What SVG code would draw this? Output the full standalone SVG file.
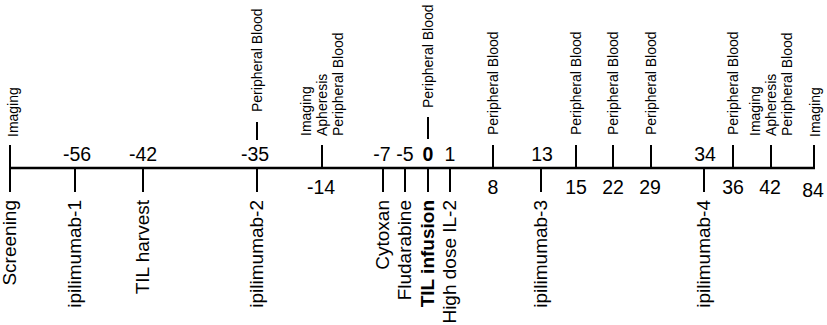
<svg xmlns="http://www.w3.org/2000/svg" width="827" height="325" viewBox="0 0 827 325">
<style>
.ax{stroke:#000;stroke-width:2.5;fill:none}
.tk{stroke:#000;stroke-width:2;fill:none}
text{font-family:"Liberation Sans",Arial,sans-serif;fill:#000}
.num{font-size:19.5px;text-anchor:middle}
.lab{font-size:19px;text-anchor:end}
.top{font-size:14px;text-anchor:start}
.b{font-weight:bold}
</style>
<rect width="827" height="325" fill="#fff"/>
<g id="connectors">
<line class="ax" x1="9" y1="168" x2="815" y2="168"/>
</g>
<g id="screening">
<line class="tk" x1="10" y1="145" x2="10" y2="192"/>
<text class="top" transform="translate(18,137) rotate(-90)">Imaging</text>
<text class="lab" transform="translate(16,200) rotate(-90)">Screening</text>
</g>
<g id="d-56">
<line class="tk" x1="75" y1="168" x2="75" y2="192"/>
<text class="num" x="77" y="161">-56</text>
<text class="lab" transform="translate(81,200) rotate(-90)">ipilimumab-1</text>
</g>
<g id="d-42">
<line class="tk" x1="143" y1="168" x2="143" y2="192"/>
<text class="num" x="143" y="161">-42</text>
<text class="lab" transform="translate(149,200) rotate(-90)">TIL harvest</text>
</g>
<g id="d-35">
<line class="tk" x1="257" y1="168" x2="257" y2="192"/>
<line class="tk" x1="257" y1="122" x2="257" y2="140"/>
<text class="num" x="255" y="161">-35</text>
<text class="top" transform="translate(262,112) rotate(-90)">Peripheral Blood</text>
<text class="lab" transform="translate(263,200) rotate(-90)">ipilimumab-2</text>
</g>
<g id="d-14">
<line class="tk" x1="322" y1="145" x2="322" y2="168"/>
<text class="num" x="321" y="194">-14</text>
<text class="top" transform="translate(311,136) rotate(-90)">Imaging</text>
<text class="top" transform="translate(327,136) rotate(-90)">Apheresis</text>
<text class="top" transform="translate(343,136) rotate(-90)">Peripheral Blood</text>
</g>
<g id="d-7">
<line class="tk" x1="383" y1="168" x2="383" y2="192"/>
<text class="num" x="382" y="161">-7</text>
<text class="lab" transform="translate(389,200) rotate(-90)">Cytoxan</text>
</g>
<g id="d-5">
<line class="tk" x1="405" y1="168" x2="405" y2="192"/>
<text class="num" x="405" y="161">-5</text>
<text class="lab" transform="translate(411,200) rotate(-90)">Fludarabine</text>
</g>
<g id="d0">
<line class="tk" x1="428" y1="168" x2="428" y2="192"/>
<line class="tk" x1="428" y1="117" x2="428" y2="139"/>
<text class="num b" x="428" y="161">0</text>
<text class="top" transform="translate(433,108) rotate(-90)">Peripheral Blood</text>
<text class="lab b" transform="translate(434,200) rotate(-90)">TIL infusion</text>
</g>
<g id="d1">
<line class="tk" x1="450" y1="168" x2="450" y2="192"/>
<text class="num" x="450" y="161">1</text>
<text class="lab" transform="translate(456,200) rotate(-90)">High dose IL-2</text>
</g>
<g id="d8">
<line class="tk" x1="493" y1="145" x2="493" y2="168"/>
<text class="num" x="493" y="194">8</text>
<text class="top" transform="translate(498,135) rotate(-90)">Peripheral Blood</text>
</g>
<g id="d13">
<line class="tk" x1="541" y1="168" x2="541" y2="192"/>
<text class="num" x="542" y="161">13</text>
<text class="lab" transform="translate(547,200) rotate(-90)">ipilimumab-3</text>
</g>
<g id="d15">
<line class="tk" x1="576" y1="145" x2="576" y2="168"/>
<text class="num" x="576" y="194">15</text>
<text class="top" transform="translate(581,135) rotate(-90)">Peripheral Blood</text>
</g>
<g id="d22">
<line class="tk" x1="613" y1="145" x2="613" y2="168"/>
<text class="num" x="613" y="194">22</text>
<text class="top" transform="translate(618,135) rotate(-90)">Peripheral Blood</text>
</g>
<g id="d29">
<line class="tk" x1="651" y1="145" x2="651" y2="168"/>
<text class="num" x="650" y="194">29</text>
<text class="top" transform="translate(656,135) rotate(-90)">Peripheral Blood</text>
</g>
<g id="d34">
<line class="tk" x1="704" y1="168" x2="704" y2="192"/>
<text class="num" x="705" y="161">34</text>
<text class="lab" transform="translate(710,200) rotate(-90)">ipilimumab-4</text>
</g>
<g id="d36">
<line class="tk" x1="733" y1="145" x2="733" y2="168"/>
<text class="num" x="733" y="194">36</text>
<text class="top" transform="translate(738,135) rotate(-90)">Peripheral Blood</text>
</g>
<g id="d42">
<line class="tk" x1="771" y1="145" x2="771" y2="168"/>
<text class="num" x="770" y="194">42</text>
<text class="top" transform="translate(760,136) rotate(-90)">Imaging</text>
<text class="top" transform="translate(776,136) rotate(-90)">Apheresis</text>
<text class="top" transform="translate(792,136) rotate(-90)">Peripheral Blood</text>
</g>
<g id="d84">
<line class="tk" x1="814" y1="145" x2="814" y2="168"/>
<text class="num" x="813" y="197">84</text>
<text class="top" transform="translate(820,137) rotate(-90)">Imaging</text>
</g>
</svg>
